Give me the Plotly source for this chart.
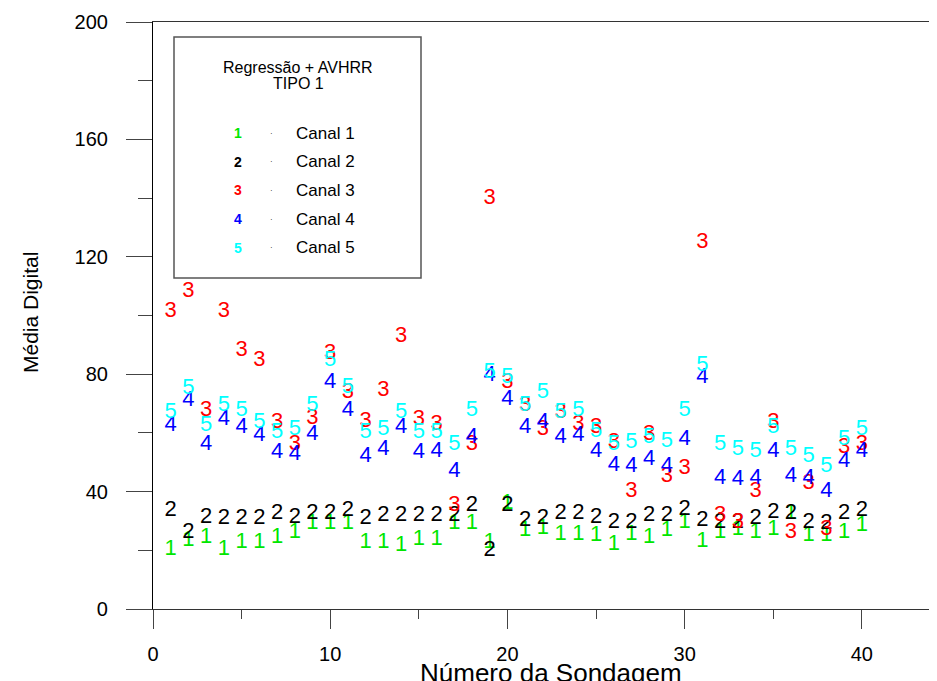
import plotly.graph_objects as go

sondagem = list(range(1, 41))
canal1 = [20.4, 23.5, 24.5, 20.4, 22.8, 22.5, 24.5, 25.9, 29.0, 29.0,
          29.0, 22.5, 22.5, 21.5, 23.8, 23.8, 29.3, 29.3, 22.5, 36.0,
          26.6, 27.3, 25.5, 25.5, 25.2, 22.0, 25.5, 24.2, 26.6, 29.6,
          23.0, 26.0, 27.0, 26.2, 27.0, 32.7, 25.0, 25.2, 26.2, 28.6]
canal2 = [33.7, 26.2, 31.3, 31.0, 31.0, 31.0, 32.4, 31.3, 32.7, 32.7,
          33.4, 30.7, 31.7, 31.7, 31.7, 32.0, 32.0, 35.4, 19.8, 35.4,
          30.0, 31.0, 32.4, 32.4, 31.3, 29.6, 29.6, 32.0, 32.0, 34.0,
          30.3, 29.6, 29.6, 31.0, 33.0, 32.7, 29.6, 29.0, 32.4, 33.7]
canal3 = [101.5, 108.3, 67.8, 101.5, 88.2, 84.8, 63.4, 55.9, 65.0, 87.2,
          73.6, 64.0, 74.3, 93.0, 64.4, 62.7, 35.4, 55.9, 139.7, 77.3,
          69.5, 61.0, 67.1, 62.7, 62.0, 56.6, 39.9, 59.6, 45.0, 48.0,
          125.0, 31.7, 29.6, 40.2, 63.7, 25.9, 42.6, 27.0, 54.9, 55.9]
canal4 = [62.4, 71.2, 56.2, 64.7, 62.0, 59.0, 53.2, 52.8, 59.6, 77.3,
          67.5, 52.1, 54.2, 61.7, 53.2, 53.5, 47.0, 58.3, 79.7, 71.5,
          61.7, 63.7, 58.6, 59.0, 53.5, 49.0, 48.4, 51.0, 48.7, 57.6,
          79.0, 44.6, 44.0, 44.3, 53.8, 45.0, 44.3, 40.0, 50.4, 53.8]
canal5 = [67.1, 75.0, 62.4, 69.2, 67.8, 63.7, 60.0, 61.0, 69.2, 84.8,
          75.6, 60.0, 61.0, 66.8, 60.0, 60.3, 56.2, 67.5, 80.7, 79.0,
          69.5, 73.6, 66.8, 67.8, 60.6, 56.2, 56.6, 58.3, 57.2, 67.5,
          82.8, 55.9, 54.5, 53.5, 61.7, 54.2, 51.8, 48.4, 57.6, 61.3]

series_names = ["Canal 1", "Canal 2", "Canal 3", "Canal 4", "Canal 5"]
series_symbols = ["1", "2", "3", "4", "5"]
series_colors = ["#00e600", "#000000", "#ff0000", "#0000ff", "#00ffff"]
series_values = [canal1, canal2, canal3, canal4, canal5]

# page has an 8px body margin; figure sized to fill the rest of the window
OFF = 8
W, H = 937 - OFF, 681 - OFF
L, R, T, B = 145, 0, 14, 72
pw, ph = W - L - R, H - T - B


def px(x):
    return (x - OFF - L) / pw


def py(y):
    return (H - B - (y - OFF)) / ph


fig = go.Figure()
for name, sym, col, vals in zip(series_names, series_symbols, series_colors, series_values):
    fig.add_trace(go.Scatter(
        x=sondagem, y=vals, mode="text", name=name,
        text=[sym] * len(vals), textposition="middle center",
        textfont=dict(family="Liberation Sans", size=22, color=col),
        showlegend=False, cliponaxis=False,
    ))

font = "Liberation Sans"
annotations = []
annotations.append(dict(x=px(298), y=py(68), xref="paper", yref="paper",
                        text="Regressão + AVHRR", showarrow=False,
                        font=dict(family=font, size=16, color="#000"),
                        xanchor="center", yanchor="middle"))
annotations.append(dict(x=px(298), y=py(84), xref="paper", yref="paper",
                        text="TIPO 1", showarrow=False,
                        font=dict(family=font, size=16, color="#000"),
                        xanchor="center", yanchor="middle"))
for i, (name, sym, col) in enumerate(zip(series_names, series_symbols, series_colors)):
    yy = 133 + i * 28.7
    annotations.append(dict(x=px(238), y=py(yy), xref="paper", yref="paper",
                            text="<b>" + sym + "</b>", showarrow=False,
                            font=dict(family=font, size=14, color=col),
                            xanchor="center", yanchor="middle"))
    annotations.append(dict(x=px(271), y=py(yy), xref="paper", yref="paper",
                            text="·", showarrow=False,
                            font=dict(family=font, size=8, color="#000"),
                            xanchor="center", yanchor="middle"))
    annotations.append(dict(x=px(294), y=py(yy), xref="paper", yref="paper",
                            text=name, showarrow=False,
                            font=dict(family=font, size=17, color="#000"),
                            xanchor="left", yanchor="middle"))
annotations.append(dict(x=px(551), y=py(656), xref="paper", yref="paper",
                        text="Número da Sondagem", showarrow=False,
                        font=dict(family=font, size=26, color="#000"),
                        xanchor="center", yanchor="top"))
annotations.append(dict(x=px(30), y=py(313), xref="paper", yref="paper",
                        text="Média Digital", showarrow=False, textangle=-90,
                        font=dict(family=font, size=21, color="#000"),
                        xanchor="center", yanchor="middle"))

shapes = [dict(type="rect", xref="paper", yref="paper",
               x0=px(174), x1=px(421), y0=py(278), y1=py(37),
               line=dict(color="#555555", width=1.5), fillcolor="rgba(0,0,0,0)")]

fig.update_layout(
    width=W, height=H,
    margin=dict(l=L, r=R, t=T, b=B, pad=0),
    paper_bgcolor="white", plot_bgcolor="white",
    annotations=annotations, shapes=shapes,
    xaxis=dict(range=[0, 44.24], tickvals=[0, 10, 20, 30, 40],
               showgrid=False, zeroline=False, showline=True, linecolor="#333",
               linewidth=1.2, mirror=True, ticks="outside", ticklen=19,
               tickcolor="#444", tickwidth=1.2, ticklabelstandoff=8,
               tickfont=dict(family=font, size=20, color="#000"),
               minor=dict(tickvals=[5, 15, 25, 35], ticks="outside", ticklen=9,
                          tickcolor="#444", tickwidth=1.2)),
    yaxis=dict(range=[0, 200], tickvals=[0, 40, 80, 120, 160, 200],
               showgrid=False, zeroline=False, showline=True, linecolor="#000",
               linewidth=1.2, ticks="outside", ticklen=26,
               tickcolor="#444", tickwidth=1.2, ticklabelstandoff=14,
               tickfont=dict(family=font, size=20, color="#000"),
               minor=dict(tickvals=[20, 60, 100, 140, 180], ticks="outside", ticklen=14,
                          tickcolor="#444", tickwidth=1.2)),
)

fig.write_html("out.html")
